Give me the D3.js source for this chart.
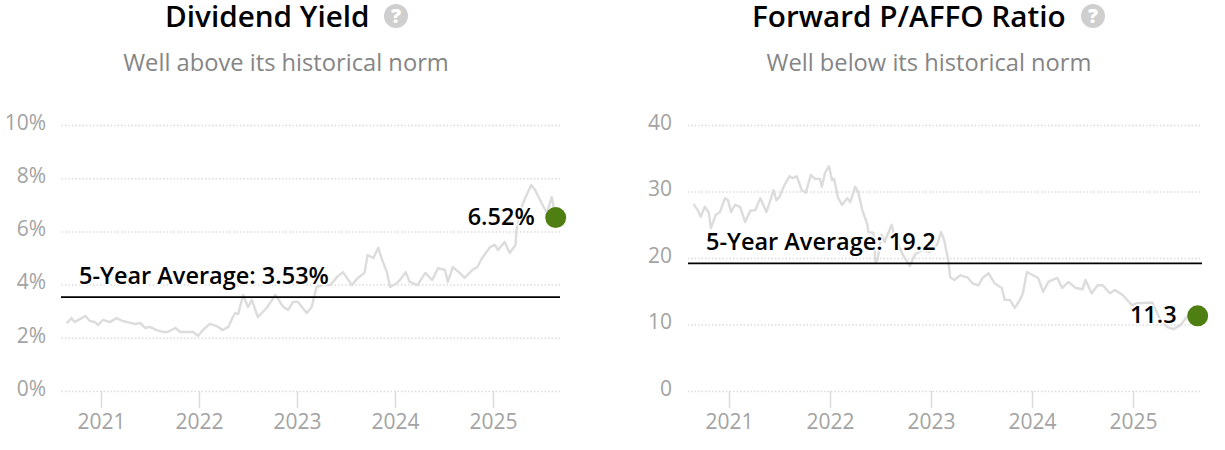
<!DOCTYPE html>
<html><head><meta charset="utf-8">
<script src="https://cdn.jsdelivr.net/npm/d3@7"></script>
<style>
html,body{margin:0;padding:0;background:#fff;overflow:hidden}
text{font-family:"Open Sans",sans-serif}
</style></head><body><svg id="c" width="1225" height="450"></svg>
<script>
const yearTicks=[2021,2022,2023,2024,2025];
const yieldTicks=[0,2,4,6,8,10];
const affoTicks=[0,10,20,30,40];
const yieldDates=[2020.65,2020.70,2020.73,2020.79,2020.84,2020.89,2020.94,2020.97,2021.02,2021.09,2021.16,2021.22,2021.30,2021.35,2021.40,2021.45,2021.50,2021.57,2021.63,2021.68,2021.76,2021.81,2021.89,2021.94,2021.99,2022.04,2022.11,2022.18,2022.24,2022.30,2022.34,2022.37,2022.40,2022.45,2022.50,2022.54,2022.60,2022.69,2022.78,2022.86,2022.91,2022.96,2023.01,2023.10,2023.15,2023.20,2023.26,2023.34,2023.41,2023.47,2023.56,2023.62,2023.69,2023.72,2023.78,2023.83,2023.87,2023.92,2023.95,2024.02,2024.05,2024.11,2024.15,2024.23,2024.31,2024.38,2024.44,2024.51,2024.54,2024.59,2024.66,2024.71,2024.79,2024.84,2024.89,2024.97,2025.02,2025.05,2025.12,2025.17,2025.23,2025.24,2025.30,2025.33,2025.39,2025.43,2025.48,2025.55,2025.60,2025.64];
const yieldValues=[2.55,2.74,2.59,2.71,2.82,2.63,2.59,2.48,2.67,2.59,2.74,2.63,2.56,2.52,2.56,2.37,2.41,2.29,2.22,2.22,2.37,2.22,2.22,2.22,2.07,2.29,2.52,2.44,2.29,2.41,2.74,2.93,2.89,3.61,3.16,3.42,2.78,3.12,3.61,3.16,3.05,3.35,3.35,2.93,3.16,3.91,3.98,3.98,4.29,4.47,3.98,4.25,4.44,5.11,5.00,5.38,4.92,4.44,3.91,4.06,4.17,4.47,4.10,3.98,4.44,4.17,4.62,4.55,4.10,4.66,4.44,4.25,4.55,4.66,5.00,5.41,5.49,5.30,5.60,5.19,5.49,6.05,6.99,7.26,7.74,7.56,7.18,6.69,7.29,6.52];
const affoDates=[2020.65,2020.69,2020.72,2020.76,2020.80,2020.82,2020.87,2020.91,2020.96,2020.99,2021.02,2021.06,2021.11,2021.16,2021.21,2021.26,2021.31,2021.37,2021.41,2021.44,2021.47,2021.50,2021.55,2021.60,2021.63,2021.67,2021.72,2021.76,2021.81,2021.85,2021.90,2021.92,2021.95,2021.99,2022.02,2022.04,2022.08,2022.12,2022.17,2022.20,2022.25,2022.28,2022.32,2022.37,2022.38,2022.43,2022.45,2022.47,2022.51,2022.54,2022.61,2022.64,2022.72,2022.79,2022.84,2022.91,2022.99,2023.06,2023.10,2023.13,2023.17,2023.19,2023.23,2023.29,2023.36,2023.41,2023.47,2023.51,2023.57,2023.63,2023.70,2023.73,2023.78,2023.83,2023.88,2023.91,2023.93,2023.95,2024.01,2024.06,2024.11,2024.16,2024.25,2024.30,2024.36,2024.43,2024.50,2024.53,2024.59,2024.65,2024.70,2024.77,2024.82,2024.90,2024.99,2025.04,2025.19,2025.27,2025.34,2025.40,2025.47,2025.53,2025.64];
const affoValues=[28.1,27.2,26.2,27.7,26.8,24.5,26.5,26.9,29.0,28.7,26.9,28.0,27.7,25.4,27.1,27.2,29.0,26.9,28.7,30.2,28.7,29.2,31.0,32.3,32.0,32.3,30.2,29.8,32.5,31.9,31.9,30.7,32.8,33.8,31.7,31.9,29.0,28.0,29.0,28.4,30.7,29.9,27.2,25.0,23.9,23.8,19.4,19.7,23.5,22.4,25.0,23.2,20.5,18.8,20.5,21.2,20.9,22.0,23.9,22.7,19.7,17.1,16.7,17.4,17.1,16.2,15.9,17.0,17.7,16.2,15.5,13.7,13.7,12.5,13.7,14.7,16.4,17.9,17.4,17.0,14.9,16.4,17.0,15.5,16.4,15.5,15.3,16.7,14.7,15.9,15.9,14.7,15.2,14.4,12.9,13.2,13.3,10.7,9.6,9.3,9.9,11.1,11.3];

const svg=d3.select("#c");
function panel(o){
  const g=svg.append("g");
  const x=d3.scaleLinear().domain(o.xDomain).range(o.xRange);
  const y=d3.scaleLinear().domain(o.yDomain).range([391,125]);
  const yAxis=d3.axisLeft(y).tickValues(o.yTicks).tickFormat(o.fmt).tickSize(o.xRange[1]-o.xRange[0]).tickPadding(15);
  const ya=g.append("g").attr("transform",`translate(${o.xRange[1]},0)`).call(yAxis);
  ya.select(".domain").remove();
  ya.selectAll("line").attr("stroke","#dcdcdc").attr("stroke-width",1.5).attr("stroke-dasharray","1.5,2");
  ya.selectAll("text").attr("fill","#a3a3a3").style("font-size","21px").attr("x",o.yLabelX-o.xRange[1]).attr("y",-2.5);
  const xAxis=d3.axisBottom(x).tickValues(yearTicks).tickFormat(d3.format("d")).tickSize(17).tickPadding(6);
  const xa=g.append("g").attr("transform","translate(0,391)").call(xAxis);
  xa.select(".domain").remove();
  xa.selectAll("line").attr("stroke","#dcdcdc").attr("stroke-width",1.5);
  xa.selectAll("text").attr("fill","#a3a3a3").style("font-size","21px");
  const line=d3.line().x((d,i)=>x(o.dates[i])).y(d=>y(d)).curve(d3.curveLinear);
  g.append("path").attr("d",line(o.values)).attr("fill","none").attr("stroke","#dcdcdc").attr("stroke-width",2.4).attr("stroke-linejoin","round");
  g.append("line").attr("x1",o.xRange[0]).attr("x2",o.avgEnd).attr("y1",y(o.avg)).attr("y2",y(o.avg)).attr("stroke","#000").attr("stroke-width",1.8);
  const halo=s=>s.attr("paint-order","stroke").attr("stroke","#fff").attr("stroke-width",3).attr("stroke-linejoin","round");
  g.append("text").attr("x",o.avgLabelX).attr("y",y(o.avg)+o.avgLabelDy).attr("fill","#000").style("font-size","23.5px").style("font-weight",600).text(o.avgLabel).call(halo);
  const last=o.values.length-1;
  g.append("text").attr("x",x(o.dates[last])-21).attr("y",y(o.values[last])+7).attr("text-anchor","end").attr("fill","#000").style("font-size","23.5px").style("font-weight",600).text(o.lastLabel).call(halo);
  g.append("circle").attr("cx",x(o.dates[last])).attr("cy",y(o.values[last])).attr("r",10.5).attr("fill","#4f7f12");
  g.append("text").attr("x",o.titleX).attr("y",27).attr("fill","#000").style("font-size","29.7px").style("font-weight",600).text(o.title);
  g.append("circle").attr("cx",o.helpX).attr("cy",16).attr("r",12).attr("fill","#cfcfcf");
  g.append("text").attr("x",o.helpX).attr("y",23).attr("text-anchor","middle").attr("fill","#fff").style("font-size","20px").style("font-weight",800).text("?");
  g.append("text").attr("x",o.subX).attr("y",71).attr("text-anchor","middle").attr("fill","#858585").style("font-size","23.7px").text(o.sub);
}
panel({title:"Dividend Yield",sub:"Well above its historical norm",titleX:165,helpX:396,subX:286,
  xDomain:[2020.592,2025.684],xRange:[61,560],yDomain:[0,10],yTicks:yieldTicks,fmt:d=>d+"%",yLabelX:46,
  dates:yieldDates,values:yieldValues,avg:3.53,avgEnd:560,avgLabelX:79,avgLabelDy:-13,avgLabel:"5-Year Average: 3.53%",lastLabel:"6.52%"});
panel({title:"Forward P/AFFO Ratio",sub:"Well below its historical norm",titleX:752,helpX:1093,subX:929,
  xDomain:[2020.594,2025.663],xRange:[688,1200],yDomain:[0,40],yTicks:affoTicks,fmt:d=>d,yLabelX:672,
  dates:affoDates,values:affoValues,avg:19.2,avgEnd:1202,avgLabelX:706,avgLabelDy:-13,avgLabel:"5-Year Average: 19.2",lastLabel:"11.3"});
</script></body></html>
